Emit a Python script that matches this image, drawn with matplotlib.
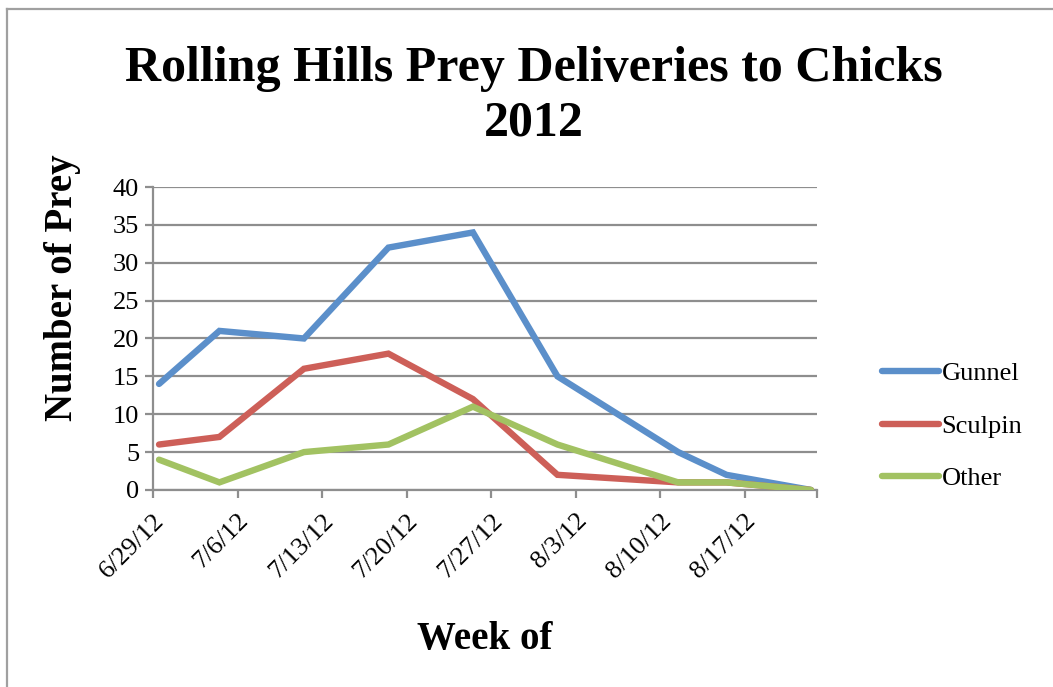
import datetime as dt
import matplotlib
matplotlib.use("Agg")
import matplotlib.pyplot as plt
from matplotlib.lines import Line2D
from matplotlib.transforms import ScaledTranslation

# Survey dates and prey counts per week
dates = [dt.date(2012, 6, 29), dt.date(2012, 7, 4), dt.date(2012, 7, 11),
         dt.date(2012, 7, 18), dt.date(2012, 7, 25), dt.date(2012, 8, 1),
         dt.date(2012, 8, 11), dt.date(2012, 8, 15), dt.date(2012, 8, 22)]
gunnel = [14, 21, 20, 32, 34, 15, 5, 2, 0]
sculpin = [6, 7, 16, 18, 12, 2, 1, 1, 0]
other = [4, 1, 5, 6, 11, 6, 1, 1, 0]
series_names = ["Gunnel", "Sculpin", "Other"]
tick_dates = [dt.date(2012, 6, 29) + dt.timedelta(days=7 * i) for i in range(8)]
y_ticks = [0, 5, 10, 15, 20, 25, 30, 35, 40]

colors = ["#5B8FCA", "#CD5F58", "#A2C262"]
serif = ["Liberation Serif", "DejaVu Serif"]

fig = plt.figure(figsize=(10.53, 6.87), dpi=100)
ax = fig.add_axes([0.1453, 0.2868, 0.6306, 0.441])

# points sit in the middle of their day, as on a day-based date axis
half_day = dt.timedelta(hours=12)
xs = [dt.datetime.combine(d, dt.time()) + half_day for d in dates]
for vals, c, name in zip([gunnel, sculpin, other], colors, series_names):
    ax.plot(xs, vals, color=c, lw=4.6, solid_capstyle="round",
            solid_joinstyle="miter", label=name, zorder=3)

ax.set_xlim(dt.datetime(2012, 6, 29), dt.datetime(2012, 8, 23))
ax.set_ylim(0, 40)
ax.set_yticks(y_ticks)
ax.set_yticklabels([str(v) for v in y_ticks], fontsize=19, family=serif)
ax.set_xticks([dt.datetime.combine(d, dt.time()) for d in tick_dates] +
              [dt.datetime(2012, 8, 23)])
ax.set_xticklabels([f"{d.month}/{d.day}/12" for d in tick_dates] + [""],
                   fontsize=19, family=serif, rotation=45, ha="right",
                   va="top", rotation_mode="anchor")
shift = ScaledTranslation(12 / 100, 0, fig.dpi_scale_trans)
for lbl in ax.get_xticklabels():
    lbl.set_transform(lbl.get_transform() + shift)

grid_c = "#8E8E8E"
ax.yaxis.grid(True, color=grid_c, lw=1.6)
ax.set_axisbelow(True)
for s in ["top", "right"]:
    ax.spines[s].set_visible(False)
for s in ["left", "bottom"]:
    ax.spines[s].set_color(grid_c)
    ax.spines[s].set_linewidth(1.6)
ax.tick_params(axis="both", color=grid_c, width=1.6, length=6, direction="out")
ax.tick_params(axis="y", pad=4)
ax.tick_params(axis="x", pad=8)

ax.set_ylabel("Number of Prey", fontsize=28, fontweight="bold", family=serif,
              va="center")
ax.yaxis.set_label_coords(-0.137, 0.667)
ax.set_xlabel("Week of", fontsize=28, fontweight="bold", family=serif,
              labelpad=28)

fig.text(0.507, 0.86, "Rolling Hills Prey Deliveries to Chicks\n2012",
         ha="center", va="center", fontsize=36, fontweight="bold",
         family=serif, linespacing=1.22)

leg = ax.legend(loc="center left", bbox_to_anchor=(1.062, 0.211), frameon=False,
                prop={"family": serif, "size": 19}, handlelength=2.16,
                handletextpad=0.1, labelspacing=1.1)

# outer chart frame
frame_c = "#A0A0A0"
fig.add_artist(Line2D([7 / 1053, 7 / 1053], [0, 1 - 9 / 687],
                      transform=fig.transFigure, color=frame_c, lw=1.6))
fig.add_artist(Line2D([7 / 1053, 1], [1 - 9 / 687, 1 - 9 / 687],
                      transform=fig.transFigure, color=frame_c, lw=1.6))

fig.savefig("out.png", dpi=100)
